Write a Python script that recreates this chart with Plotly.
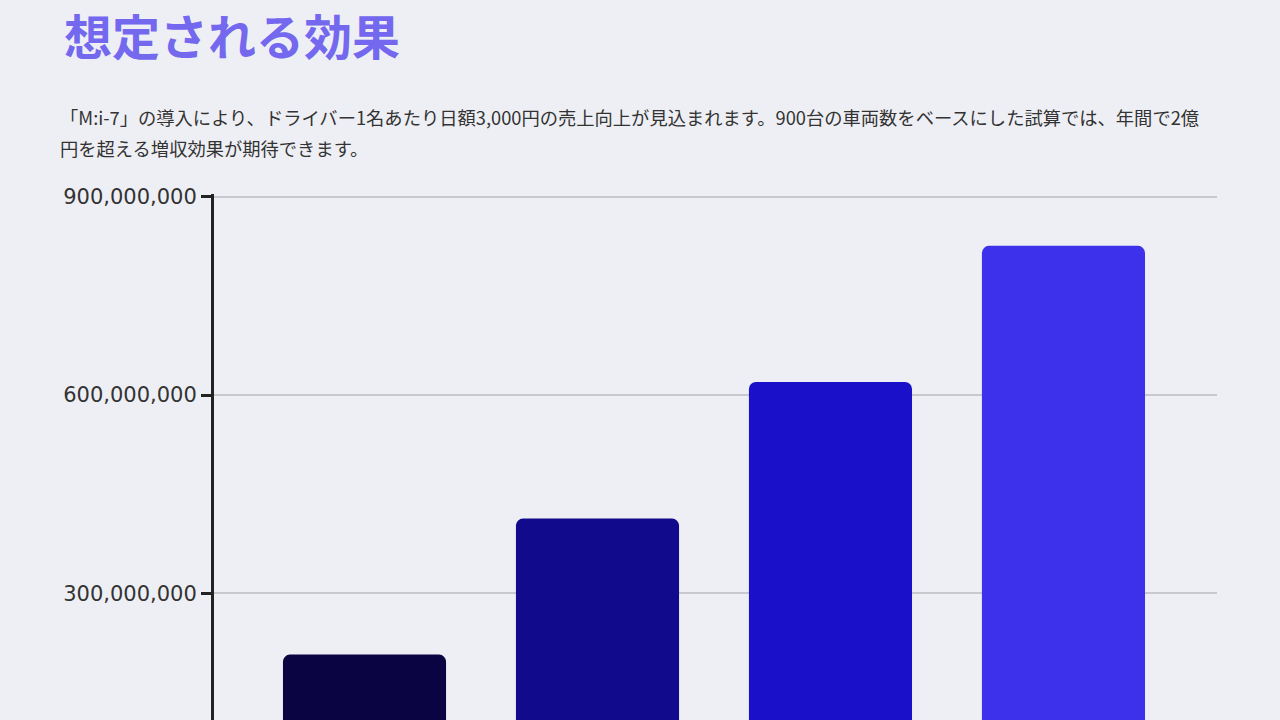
import plotly.graph_objects as go

# 試算データ（下端は画面外で切れているため値は目盛から読み取り）
periods = ["1年目", "2年目", "3年目", "4年目"]
revenue = [207000000, 413000000, 620000000, 826000000]
bar_colors = ["#0b0442", "#120a8c", "#1a10c9", "#3d31ec"]
tick_vals = [300000000, 600000000, 900000000]
tick_text = ["300,000,000", "600,000,000", "900,000,000"]

title_text = "想定される効果"
desc_line1 = "「M:i-7」の導入により、ドライバー1名あたり日額3,000円の売上向上が見込まれます。900台の車両数をベースにした試算では、年間で2億"
desc_line2 = "円を超える増収効果が期待できます。"

bg = "#eeeff4"
jp_font = "Noto Sans CJK JP"

fig = go.Figure()

fig.add_trace(
    go.Bar(
        x=periods,
        y=revenue,
        marker=dict(color=bar_colors, line=dict(width=0)),
        showlegend=False,
    )
)

fig.update_layout(
    width=1280,
    height=720,
    paper_bgcolor=bg,
    plot_bgcolor=bg,
    margin=dict(l=214, r=63, t=194, b=0),
    bargap=0.3,
    barcornerradius=7,
    title=dict(
        text="<b>" + title_text + "</b>",
        font=dict(family=jp_font, size=48, color="#7468ef"),
        x=64 / 1280,
        xanchor="left",
        y=1 - 21 / 720,
        yanchor="top",
    ),
)

fig.add_annotation(
    text=desc_line1, xref="paper", yref="paper",
    x=-156 / 1003, y=1 + (194 - 117) / 526, xanchor="left", yanchor="middle",
    showarrow=False, font=dict(family=jp_font, size=18.3, color="#333333"),
)
fig.add_annotation(
    text=desc_line2, xref="paper", yref="paper",
    x=-156 / 1003, y=1 + (194 - 148) / 526, xanchor="left", yanchor="middle",
    showarrow=False, font=dict(family=jp_font, size=18.3, color="#333333"),
)

fig.update_xaxes(
    range=[-0.646, 3.659],
    showticklabels=False,
    showgrid=False,
    zeroline=False,
    showline=False,
    ticks="",
)
fig.update_yaxes(
    range=[108000000, 904500000],
    tickvals=tick_vals,
    ticktext=tick_text,
    tickfont=dict(family="DejaVu Sans", size=21, color="#333333"),
    ticklabelstandoff=0,
    ticks="outside",
    ticklen=10,
    tickwidth=2.5,
    tickcolor="#222222",
    showline=True,
    linecolor="#222222",
    linewidth=3,
    showgrid=True,
    gridcolor="#c8c8cd",
    gridwidth=1.5,
    zeroline=False,
)

fig.write_html(
    "out.html",
    config={"displayModeBar": False},
    post_script="document.body.style.margin='0';",
)
